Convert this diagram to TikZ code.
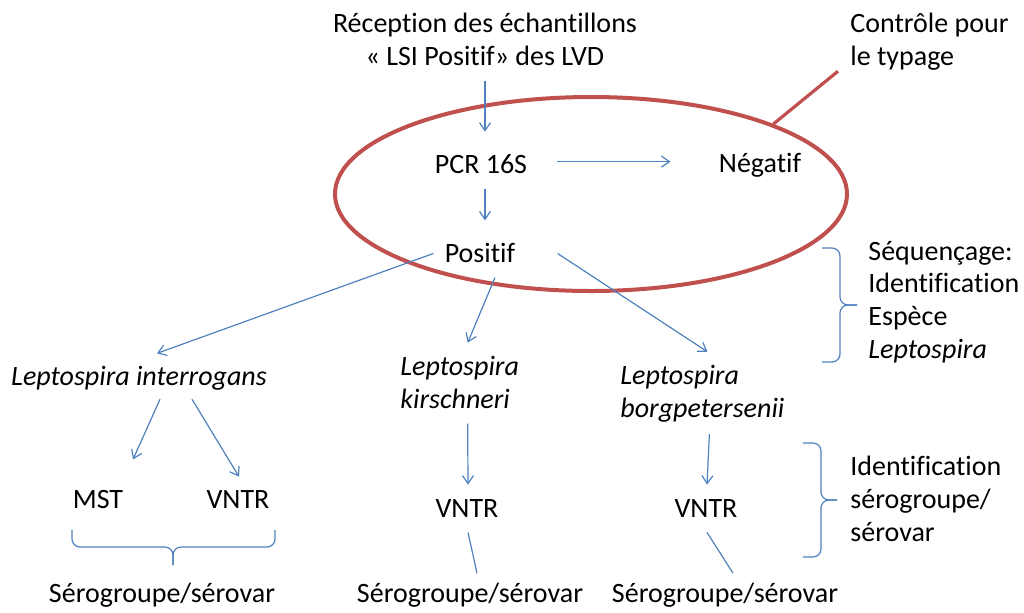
\documentclass[tikz,border=0pt]{standalone}
\usepackage{fontspec}
\setmainfont{Carlito}[Ligatures=NoCommon]
\usetikzlibrary{positioning, calc, arrows.meta, shapes.geometric}

\definecolor{lineblue}{HTML}{4F81BD}
\definecolor{loopred}{HTML}{C0504D}

\begin{document}
\begin{tikzpicture}[x=0.5pt, y=-0.5pt,
    every node/.style={inner sep=0pt, font=\fontsize{14}{16.3}\selectfont},
    flow/.style={draw=lineblue, line width=0.6pt, -{Straight Barb[length=4pt,width=5.5pt]}},
    link/.style={draw=lineblue, line width=0.6pt},
    curly/.style={draw=lineblue, line width=0.6pt, rounded corners=4pt}]
\useasboundingbox (0,0) rectangle (1024,612);

% the PCR loop
\node[ellipse, draw=loopred, line width=2pt, minimum width=256pt, minimum height=97pt] (loop) at (591,194) {};

\node[align=center, anchor=base] (recep) at (485,65) {Réception des échantillons\\« LSI Positif» des LVD};
\node[align=left, anchor=base west] (ctrl) at (850,65) {Contrôle pour\\le typage};
\node[anchor=base] (pcr) at (481,173) {PCR 16S};
\node[anchor=base] (neg) at (760,172) {Négatif};
\node[anchor=base] (pos) at (480,262) {Positif};
\node[align=left, anchor=base west] (seq) at (868,358) {Séquençage:\\Identification\\Espèce\\\textit{Leptospira}};

\node[anchor=base] (lint) at (139,385) {\textit{Leptospira interrogans}};
\node[align=left, anchor=base west] (lkir) at (400,408) {\textit{Leptospira}\\\textit{kirschneri}};
\node[align=left, anchor=base west] (lborg) at (620,417) {\textit{Leptospira}\\\textit{borgpetersenii}};

\node[anchor=base] (mst) at (98,508) {MST};
\node[anchor=base] (vntra) at (238,508) {VNTR};
\node[anchor=base] (vntrb) at (467,517) {VNTR};
\node[anchor=base] (vntrc) at (706,517) {VNTR};
\node[align=left, anchor=base west] (ident) at (850,541) {Identification\\sérogroupe/\\sérovar};

\node[anchor=base] (seroa) at (162,602) {Sérogroupe/sérovar};
\node[anchor=base] (serob) at (470,602) {Sérogroupe/sérovar};
\node[anchor=base] (seroc) at (725,602) {Sérogroupe/sérovar};

\draw[loopred, line width=1.6pt] (loop.21) -- ($(ctrl.south west)+(-12,1)$);

% arrows
\draw[flow] ($(recep.south)+(0,15)$) -- ($(recep.south |- pcr.north)+(0,-22)$);
\draw[flow] ($(pcr.east)+(30,-2)$) -- ($(pcr.east -| neg.west)+(-48,-2)$);
\draw[flow] ($(recep.south |- pcr.south)+(0,15)$) -- ($(recep.south |- pos.north)+(0,-22)$);
\draw[flow] ($(pos.west)+(-11,1)$) -- ($(lint.north)+(18,-12)$);
\draw[flow] ($(pos.south)+(15,15)$) -- ($(lkir.north)+(8,-13)$);
\draw[flow] ($(pos.east)+(42,1)$) -- ($(lborg.north)+(5,-13)$);
\draw[flow] ($(lint.south)+(21,9)$) -- ($(mst.north)+(35,-30)$);
\draw[flow] ($(lint.south)+(53,9)$) -- ($(vntra.north)+(1,-13)$);
\draw[flow] ($(lkir.south)+(8,15)$) -- ($(vntrb.north)+(1,-14)$);
\draw[flow] ($(lborg.south)+(7,12)$) -- ($(vntrc.north)+(1,-14)$);
\draw[link] ($(vntrb.south)+(1,15)$) -- ($(serob.north)+(7,-9)$);
\draw[link] ($(vntrc.south)+(1,15)$) -- ($(seroc.north)+(8,-9)$);

% braces
\draw[curly] (72,530) -- (72,547) -- (173,547) -- (173,565);
\draw[curly] (275,530) -- (275,547) -- (173,547) -- (173,565);
\draw[curly] (822,248) -- (840,248) -- (840,305) -- (857,305);
\draw[curly] (822,362) -- (840,362) -- (840,305) -- (857,305);
\draw[curly] (803,443) -- (821,443) -- (821,500) -- (837,500);
\draw[curly] (803,557) -- (821,557) -- (821,500) -- (837,500);
\end{tikzpicture}
\end{document}
